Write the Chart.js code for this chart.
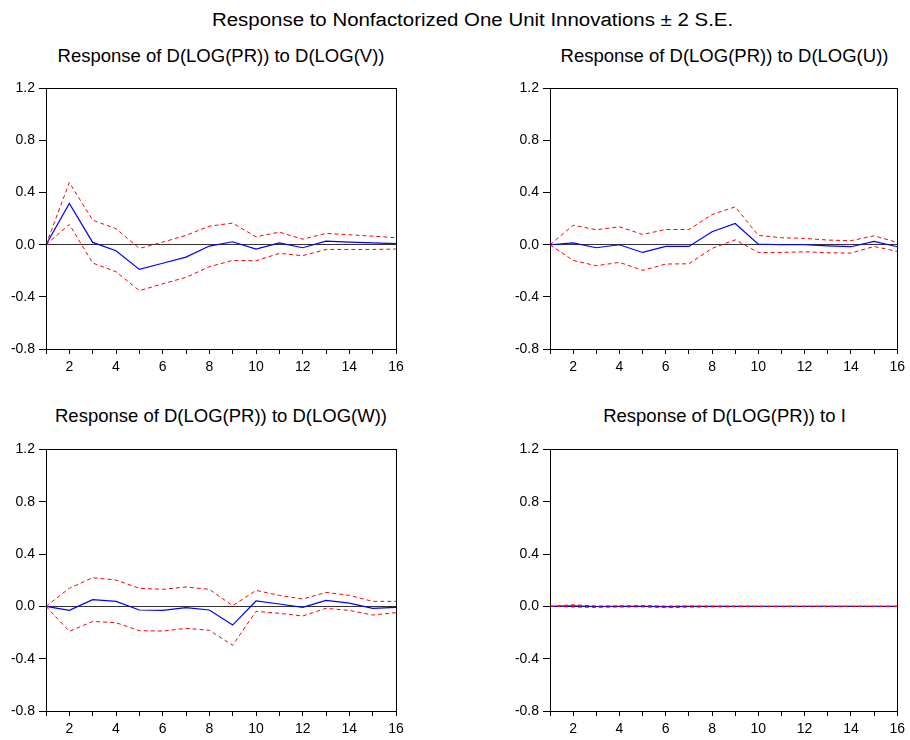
<!DOCTYPE html>
<html>
<head>
<meta charset="utf-8">
<script src="https://cdn.jsdelivr.net/npm/chart.js@4/dist/chart.umd.min.js"></script>
<style>
  body { margin: 0; background: #fff; font-family: "Liberation Sans", Arial, sans-serif; }
  #wrap { position: relative; width: 910px; height: 740px; }
  .t { position: absolute; white-space: nowrap; text-align: center; color: #000; font-size: 18.5px; line-height: 20px; }
  canvas { position: absolute; }
</style>
</head>
<body>
<div id="wrap">
  <div class="t" style="left:212px; top:10px; font-size:18px; text-align:left; transform:scaleX(1.135); transform-origin:0 0;">Response to Nonfactorized One Unit Innovations ± 2 S.E.</div>
  <div class="t" style="left:46px; width:350px; top:46px;">Response of D(LOG(PR)) to D(LOG(V))</div>
  <div class="t" style="left:550px; width:349px; top:46px;">Response of D(LOG(PR)) to D(LOG(U))</div>
  <div class="t" style="left:46px; width:350px; top:406px;">Response of D(LOG(PR)) to D(LOG(W))</div>
  <div class="t" style="left:550px; width:349px; top:406px;">Response of D(LOG(PR)) to I</div>
  <canvas id="c1" width="410" height="304" style="left:0px; top:76px;"></canvas>
  <canvas id="c2" width="410" height="304" style="left:500px; top:76px;"></canvas>
  <canvas id="c3" width="410" height="305" style="left:0px; top:437px;"></canvas>
  <canvas id="c4" width="410" height="305" style="left:500px; top:437px;"></canvas>
</div>
<script>
// periodos del horizonte
const periodos = [1, 2, 3, 4, 5, 6, 7, 8, 9, 10, 11, 12, 13, 14, 15, 16];
const ticksY = [-0.8, -0.4, 0.0, 0.4, 0.8, 1.2];

// respuesta a D(LOG(V))
const respV  = [0, 0.317, 0.018, -0.046, -0.189, -0.142, -0.095, -0.010, 0.023, -0.033, 0.015, -0.023, 0.028, 0.020, 0.015, 0.008];
const altoV  = [0, 0.478, 0.189, 0.123, -0.028, 0.020, 0.072, 0.143, 0.166, 0.061, 0.097, 0.043, 0.087, 0.077, 0.066, 0.054];
const bajoV  = [0, 0.156, -0.140, -0.207, -0.352, -0.300, -0.250, -0.169, -0.120, -0.123, -0.066, -0.084, -0.036, -0.036, -0.036, -0.033];

// respuesta a D(LOG(U))
const respU  = [0, 0.015, -0.023, 0, -0.059, -0.013, -0.013, 0.100, 0.163, 0.005, 0, 0, -0.008, -0.015, 0.026, -0.015];
const altoU  = [0, 0.150, 0.115, 0.138, 0.079, 0.117, 0.117, 0.232, 0.291, 0.072, 0.054, 0.049, 0.036, 0.031, 0.069, 0.018];
const bajoU  = [0, -0.120, -0.161, -0.135, -0.197, -0.148, -0.146, -0.028, 0.038, -0.059, -0.059, -0.054, -0.061, -0.064, -0.013, -0.051];

// respuesta a D(LOG(W))
const respW  = [0, -0.031, 0.051, 0.038, -0.028, -0.031, -0.010, -0.028, -0.143, 0.041, 0.018, -0.008, 0.046, 0.025, -0.015, -0.008];
const altoW  = [0, 0.138, 0.219, 0.201, 0.138, 0.130, 0.148, 0.130, 0.005, 0.122, 0.084, 0.056, 0.107, 0.084, 0.038, 0.038];
const bajoW  = [0, -0.191, -0.115, -0.125, -0.186, -0.189, -0.168, -0.183, -0.298, -0.038, -0.053, -0.074, -0.015, -0.031, -0.066, -0.048];

// respuesta a I
const respI  = [0, 0.003, -0.001, 0, 0.001, -0.002, 0, 0, 0, 0, 0, 0, 0, 0, 0, 0];
const altoI  = [0, 0.012, 0.003, 0.004, 0.006, 0.002, 0.003, 0.002, 0.002, 0.001, 0.001, 0.001, 0.001, 0.001, 0.001, 0.001];
const bajoI  = [0, -0.005, -0.008, -0.005, -0.004, -0.010, -0.006, -0.004, -0.003, -0.002, -0.002, -0.001, -0.001, -0.001, -0.001, -0.001];

// marco completo alrededor del area del grafico
const marco = {
    id: 'marco',
    afterDraw(chart) {
        const a = chart.chartArea;
        const ctx = chart.ctx;
        ctx.save();
        ctx.strokeStyle = '#000';
        ctx.lineWidth = 1;
        ctx.strokeRect(Math.round(a.left) + 0.5, Math.round(a.top) + 0.5, Math.round(a.right - a.left), Math.round(a.bottom - a.top));
        ctx.restore();
    }
};

const serie = (datos) => datos.map((v, i) => ({ x: periodos[i], y: v }));

function crearGrafico(id, resp, alto, bajo, anchoEje, padDer) {
    const ctx = document.getElementById(id).getContext('2d');
    return new Chart(ctx, {
        type: 'line',
        data: {
            datasets: [
                { data: serie(alto), borderColor: '#ff0000', borderWidth: 1, borderDash: [4, 3], pointRadius: 0, fill: false },
                { data: serie(bajo), borderColor: '#ff0000', borderWidth: 1, borderDash: [4, 3], pointRadius: 0, fill: false },
                { data: serie(resp), borderColor: '#0000ff', borderWidth: 1.2, pointRadius: 0, fill: false }
            ]
        },
        options: {
            responsive: false,
            animation: false,
            layout: { padding: { left: 0, top: 8, right: padDer, bottom: 0 } },
            plugins: { legend: { display: false }, tooltip: { enabled: false }, title: { display: false } },
            scales: {
                x: {
                    type: 'linear',
                    min: 1,
                    max: 16,
                    afterFit: (s) => { s.height = 31; },
                    afterBuildTicks: (s) => { s.ticks = periodos.map(v => ({ value: v })); },
                    ticks: {
                        autoSkip: false,
                        maxRotation: 0,
                        padding: 5,
                        color: '#000',
                        font: { family: 'Liberation Sans', size: 14 },
                        callback: (v) => (v % 2 === 0 ? String(v) : '')
                    },
                    grid: { drawOnChartArea: false, tickColor: '#000', tickLength: 5 },
                    border: { color: '#000' }
                },
                y: {
                    min: -0.8,
                    max: 1.2,
                    afterFit: (s) => { s.width = anchoEje; },
                    afterBuildTicks: (s) => { s.ticks = ticksY.map(v => ({ value: v })); },
                    ticks: {
                        padding: 4,
                        color: '#000',
                        font: { family: 'Liberation Sans', size: 14 },
                        callback: (v) => v.toFixed(1)
                    },
                    grid: {
                        color: (c) => (c.tick && Math.abs(c.tick.value) < 1e-9 ? '#333' : 'rgba(0,0,0,0)'),
                        lineWidth: 1,
                        tickColor: '#000',
                        tickLength: 7
                    },
                    border: { color: '#000' }
                }
            }
        },
        plugins: [marco]
    });
}

crearGrafico('c1', respV, altoV, bajoV, 46, 14);
crearGrafico('c2', respU, altoU, bajoU, 50, 11);
crearGrafico('c3', respW, altoW, bajoW, 46, 14);
crearGrafico('c4', respI, altoI, bajoI, 50, 11);
</script>
</body>
</html>
